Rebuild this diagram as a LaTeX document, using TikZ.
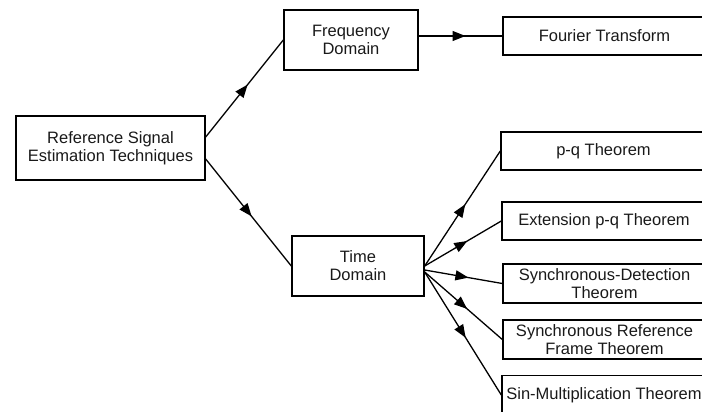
\documentclass[tikz,border=0pt]{standalone}
\usepackage{fontspec}
\setmainfont{Liberation Sans}
\usetikzlibrary{arrows.meta,decorations.markings}
\begin{document}
\begin{tikzpicture}[x=1pt,y=-1pt,
  box/.style={draw=black,line width=1.4pt,rectangle,inner sep=0pt,align=center,
    font=\fontsize{16.5}{18}\selectfont,text=black!90},
  conn/.style={draw=black,line width=1.3pt,postaction={decorate},
    decoration={markings,mark=at position 0.5 with {\arrow[xshift=5pt]{Triangle[length=13pt,width=10pt]}}}}]
\useasboundingbox (0,0) rectangle (702,412);
\node[box,minimum width=189pt,minimum height=64pt] (ref) at (110.5,148) {Reference Signal\\Estimation Techniques};
\node[box,minimum width=134pt,minimum height=60pt] (freq) at (351,40) {Frequency\\Domain};
\node[box,minimum width=132pt,minimum height=60pt] (time) at (358,266) {Time\\Domain};
\node[box,minimum width=203pt,minimum height=38pt] (four) at (604.5,36) {Fourier Transform};
\node[box,minimum width=205pt,minimum height=38pt] (pq) at (603.5,151) {p-q Theorem};
\node[box,minimum width=204pt,minimum height=38pt] (ext) at (604,221) {Extension p-q Theorem};
\node[box,minimum width=203pt,minimum height=39pt] (sd) at (604.5,283.5) {Synchronous-Detection\\Theorem};
\node[box,minimum width=203pt,minimum height=39pt] (srf) at (604.5,339.5) {Synchronous Reference\\Frame Theorem};
\node[box,minimum width=204pt,minimum height=39pt] (sin) at (604,395) {Sin-Multiplication Theorem};
\draw[conn] ([yshift=11pt]ref.east) -- (freq.west);
\draw[conn] ([yshift=-11pt]ref.east) -- (time.west);
\draw[conn] ([yshift=4pt]freq.east) -- (four.west);
\draw[conn] (time.east) -- (pq.west);
\draw[conn] (time.east) -- (ext.west);
\draw[conn] ([yshift=-4pt]time.east) -- (sd.west);
\draw[conn] ([yshift=-6pt]time.east) -- (srf.west);
\draw[conn] ([yshift=-6pt]time.east) -- (sin.west);
\end{tikzpicture}
\end{document}
